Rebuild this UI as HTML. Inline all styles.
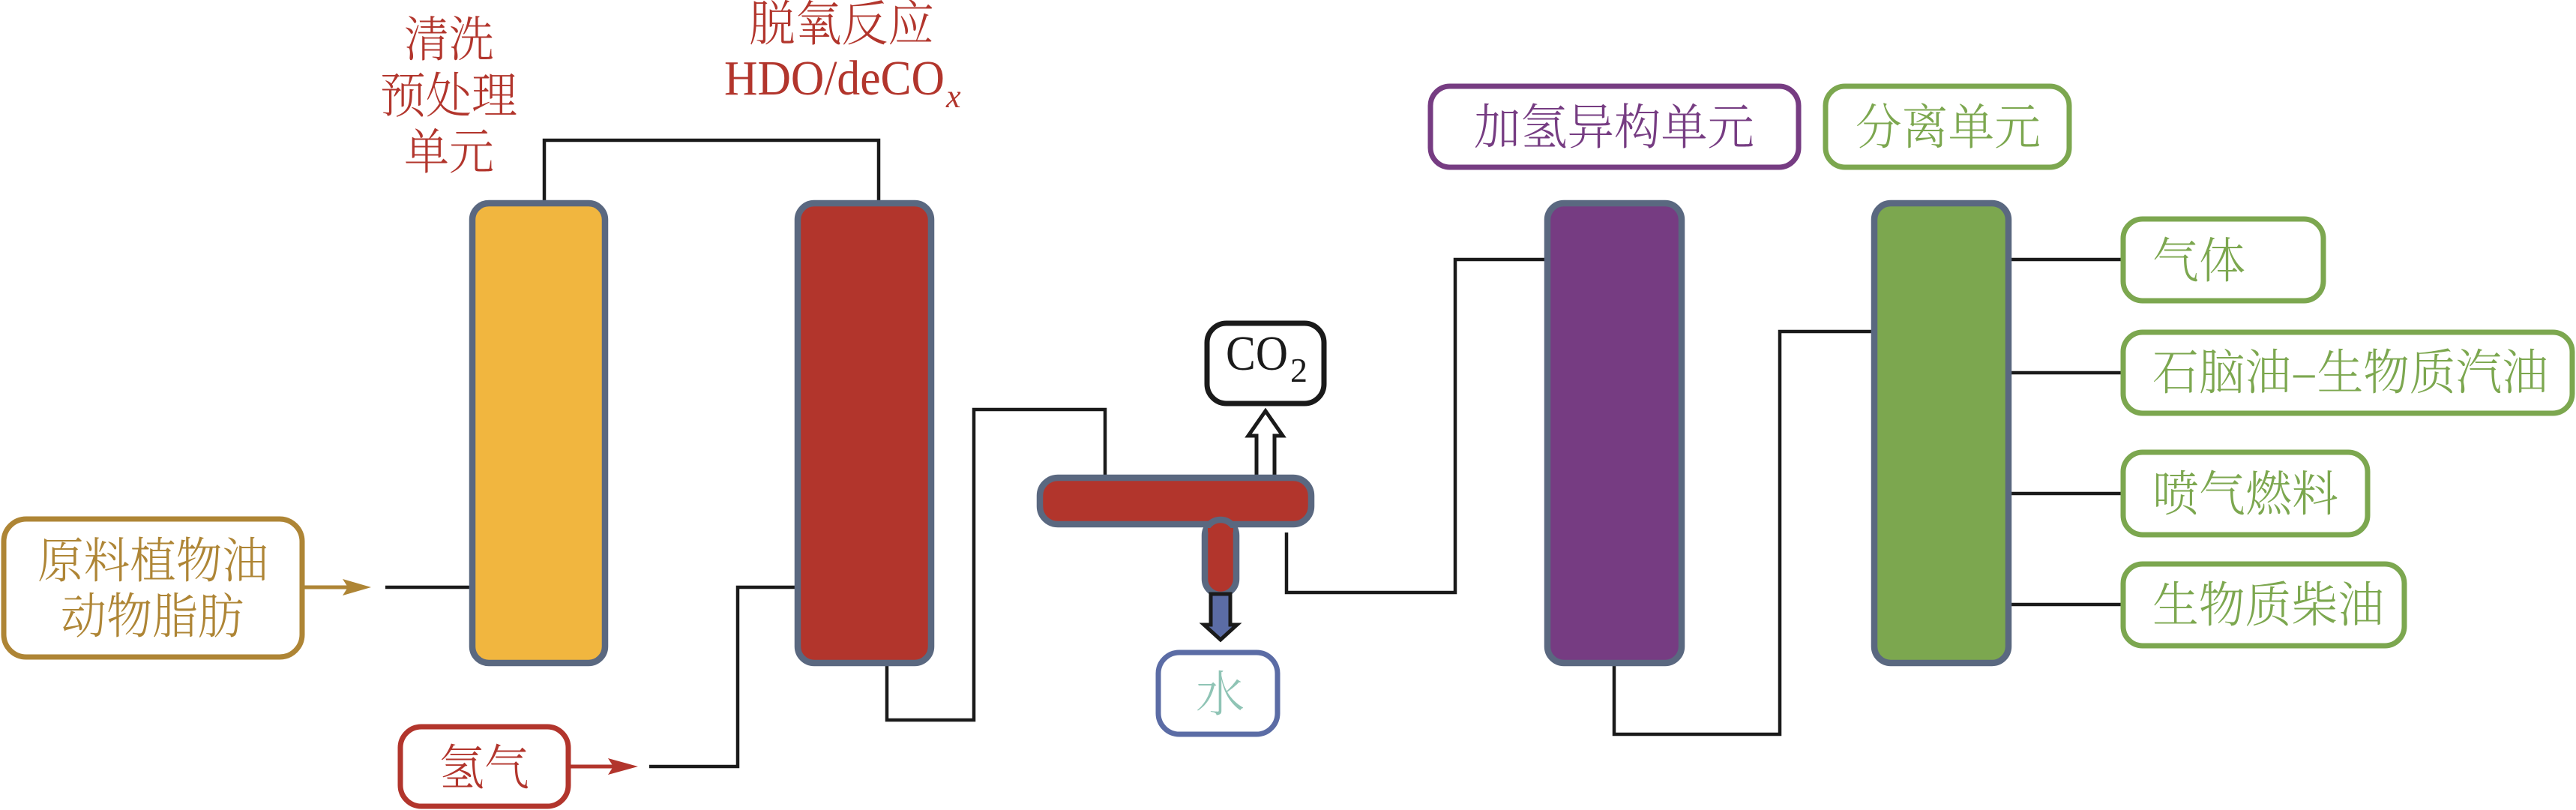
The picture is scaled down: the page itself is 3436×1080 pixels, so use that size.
<!DOCTYPE html>
<html lang="zh">
<head>
<meta charset="utf-8">
<title>Diagram</title>
<style>
html,body{margin:0;padding:0;background:#fff;width:3436px;height:1080px;overflow:hidden}
svg{display:block}
text{font-family:"Liberation Serif","Noto Serif CJK SC",serif}
.c{font-family:"Noto Serif CJK SC","Liberation Serif",serif;font-size:65px;font-weight:300}
.l{fill:none;stroke:#1a1a1a;stroke-width:4.5}
.col{stroke:#5a6880;stroke-width:8.5}
</style>
</head>
<body>
<svg width="3436" height="1080" viewBox="0 0 3436 1080" xmlns="http://www.w3.org/2000/svg">
<!-- connectors -->
<polyline class="l" points="726,270 726,187 1172,187 1172,270"/>
<polyline class="l" points="514,783 630,783"/>
<polyline class="l" points="866,1022 984,1022 984,783 1064,783"/>
<polyline class="l" points="1183,885 1183,960 1299,960 1299,546 1474,546 1474,638"/>
<polyline class="l" points="1716,710 1716,790 1941,790 1941,346 2064,346"/>
<polyline class="l" points="2153,885 2153,979 2374,979 2374,442 2500,442"/>
<polyline class="l" points="2680,346 2832,346"/>
<polyline class="l" points="2680,497 2832,497"/>
<polyline class="l" points="2680,658 2832,658"/>
<polyline class="l" points="2680,806 2832,806"/>

<!-- columns -->
<rect class="col" x="630" y="271" width="177" height="613" rx="22" fill="#f1b63f"/>
<rect class="col" x="1064" y="271" width="178" height="613" rx="22" fill="#b2352c"/>
<rect class="col" x="2064" y="271" width="179" height="613" rx="22" fill="#763c82"/>
<rect class="col" x="2500" y="271" width="179" height="613" rx="22" fill="#7ca74f"/>

<!-- CO2 arrow -->
<polygon points="1676,636 1676,581 1665,581 1688,548 1711,581 1700,581 1700,636" fill="#fff" stroke="#1a1a1a" stroke-width="5" stroke-miterlimit="10"/>

<!-- drum -->
<rect class="col" x="1387" y="637" width="362" height="62" rx="24" fill="#b2352c"/>
<rect class="col" x="1607" y="693" width="42" height="100" rx="21" fill="#b2352c"/>
<rect x="1611" y="704" width="34" height="6" fill="#b2352c"/>

<!-- water arrow -->
<polygon points="1615,792 1615,833 1606,833 1628,853 1650,833 1641,833 1641,792" fill="#5b6ca5" stroke="#1a1a1a" stroke-width="5" stroke-miterlimit="10"/>

<!-- feed box -->
<rect x="5" y="692" width="398" height="184" rx="30" fill="#fff" stroke="#ae8535" stroke-width="7"/>
<text class="c" x="50" y="770" fill="#ae8535" textLength="308" lengthAdjust="spacingAndGlyphs">原料植物油</text>
<text class="c" x="81" y="844" fill="#ae8535" textLength="244" lengthAdjust="spacingAndGlyphs">动物脂肪</text>
<line x1="406" y1="783" x2="470" y2="783" stroke="#ae8535" stroke-width="5"/>
<polygon points="457,772 495,783 457,794 464,783" fill="#ae8535"/>

<!-- hydrogen box -->
<rect x="534" y="969" width="224" height="106" rx="28" fill="#fff" stroke="#b2352c" stroke-width="7"/>
<text class="c" x="586" y="1046" fill="#b2352c" textLength="120" lengthAdjust="spacingAndGlyphs">氢气</text>
<line x1="761" y1="1022" x2="825" y2="1022" stroke="#b2352c" stroke-width="5"/>
<polygon points="811,1011 851,1022 811,1033 818,1022" fill="#b2352c"/>

<!-- top labels -->
<text class="c" x="539" y="75" fill="#b2352c" textLength="120" lengthAdjust="spacingAndGlyphs">清洗</text>
<text class="c" x="507" y="150" fill="#b2352c" textLength="183" lengthAdjust="spacingAndGlyphs">预处理</text>
<text class="c" x="539" y="225" fill="#b2352c" textLength="120" lengthAdjust="spacingAndGlyphs">单元</text>
<text class="c" x="999" y="54" fill="#b2352c" textLength="247" lengthAdjust="spacingAndGlyphs">脱氧反应</text>
<text x="966" y="126" font-size="66" fill="#b2352c" textLength="294" lengthAdjust="spacingAndGlyphs">HDO/deCO</text>
<text x="1262" y="143" font-size="44" font-style="italic" fill="#b2352c">x</text>

<!-- CO2 box -->
<rect x="1610" y="431" width="156" height="107" rx="26" fill="#fff" stroke="#1a1a1a" stroke-width="7"/>
<text x="1635" y="493" font-size="66" fill="#1a1a1a" textLength="83" lengthAdjust="spacingAndGlyphs">CO</text>
<text x="1721" y="509" font-size="46" fill="#1a1a1a">2</text>

<!-- water box -->
<rect x="1545" y="870" width="159" height="109" rx="28" fill="#fff" stroke="#5b6ca5" stroke-width="7"/>
<text class="c" x="1595" y="948" fill="#8fc4b5">水</text>

<!-- unit labels -->
<rect x="1908" y="115" width="491" height="108" rx="26" fill="#fff" stroke="#763c82" stroke-width="7"/>
<text class="c" x="1966" y="192" fill="#763c82" textLength="374" lengthAdjust="spacingAndGlyphs">加氢异构单元</text>
<rect x="2435" y="115" width="325" height="108" rx="26" fill="#fff" stroke="#7ca74f" stroke-width="7"/>
<text class="c" x="2475" y="192" fill="#7ca74f" textLength="247" lengthAdjust="spacingAndGlyphs">分离单元</text>

<!-- products -->
<rect x="2832" y="292" width="267" height="109" rx="26" fill="#fff" stroke="#7ca74f" stroke-width="7"/>
<text class="c" x="2871" y="370" fill="#7ca74f" textLength="124" lengthAdjust="spacingAndGlyphs">气体</text>
<rect x="2832" y="443" width="599" height="108" rx="26" fill="#fff" stroke="#7ca74f" stroke-width="7"/>
<text class="c" x="2871" y="519" fill="#7ca74f" textLength="528" lengthAdjust="spacingAndGlyphs">石脑油–生物质汽油</text>
<rect x="2832" y="603" width="326" height="110" rx="26" fill="#fff" stroke="#7ca74f" stroke-width="7"/>
<text class="c" x="2871" y="681" fill="#7ca74f" textLength="248" lengthAdjust="spacingAndGlyphs">喷气燃料</text>
<rect x="2832" y="752" width="375" height="109" rx="26" fill="#fff" stroke="#7ca74f" stroke-width="7"/>
<text class="c" x="2871" y="829" fill="#7ca74f" textLength="309" lengthAdjust="spacingAndGlyphs">生物质柴油</text>
</svg>
</body>
</html>
